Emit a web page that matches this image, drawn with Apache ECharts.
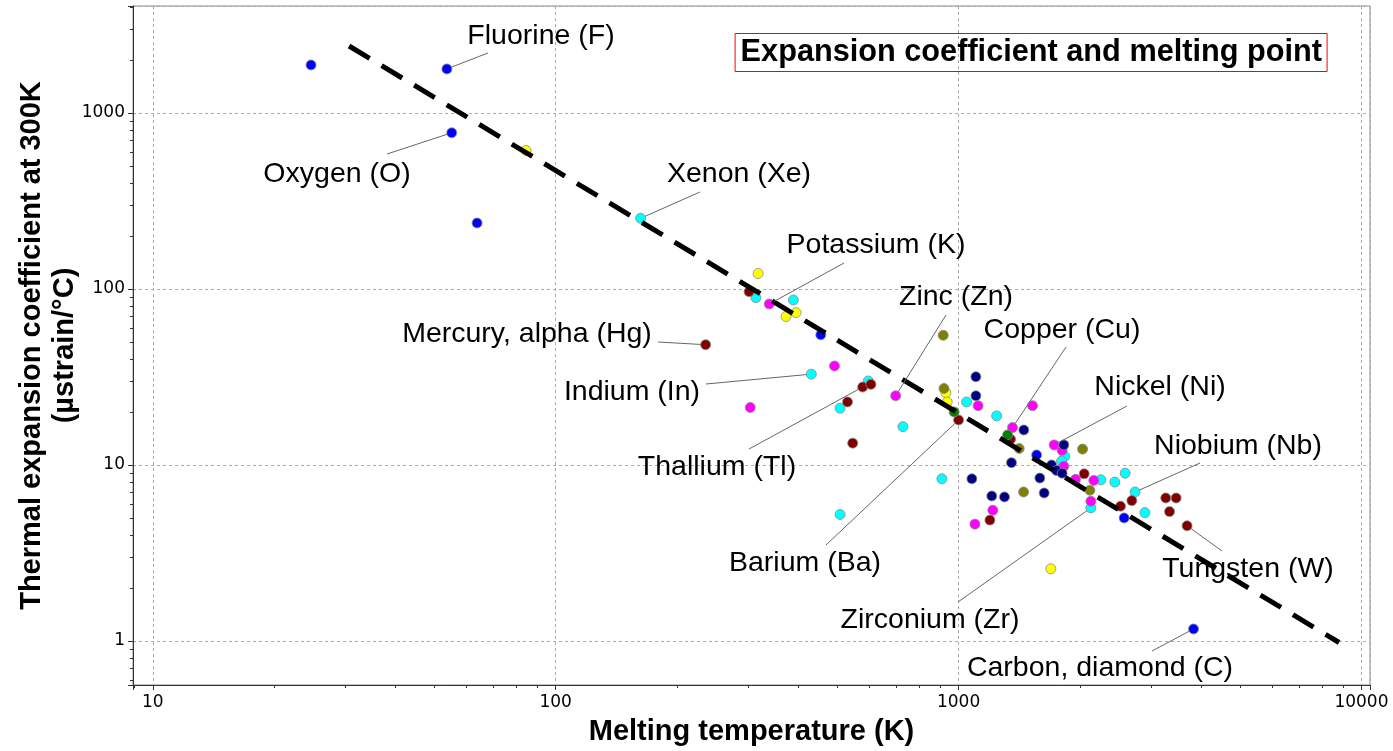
<!DOCTYPE html>
<html>
<head>
<meta charset="utf-8">
<title>Expansion coefficient and melting point</title>
<script src="https://cdn.jsdelivr.net/npm/echarts@6/dist/echarts.min.js"></script>
<style>
  html, body { margin: 0; padding: 0; background: #fff; }
  #main { width: 1393px; height: 751px; }
</style>
</head>
<body>
<div id="main"></div>
<script>
// each point: [melting temperature (K), expansion coefficient at 300K (µstrain/°C)]
const blue = [[24.7, 1873], [53.7, 1778], [55.2, 771], [63.8, 237], [455, 54.9], [1562, 11.4], [2576, 5.0], [3830, 1.17]];
const blueNames = ['', 'Fluorine (F)', 'Oxygen (O)', '', '', '', '', 'Carbon, diamond (C)'];

const yellow = [[84.4, 612], [318, 122.4], [373, 69.7], [395, 73.4], [930, 25.7], [937, 22.8], [1694, 2.57]];

const cyan = [[162.5, 252], [314, 89.2], [389, 86.5], [431, 32.8], [508, 21.0], [508, 5.23], [597, 30], [727.6, 16.5],
  [909, 8.34], [1047, 22.8], [1243, 19.0], [1835, 11.2], [1801, 10.5], [2255, 8.23], [2442, 7.99], [2591, 8.98],
  [2130, 5.7], [2742, 7.02], [2900, 5.36]];
const cyanNames = ['Xenon (Xe)', '', '', 'Indium (In)', '', '', '', '', '', '', '', '', '', '', '', '', 'Zirconium (Zr)', 'Niobium (Nb)', ''];

const maroon = [[235.6, 48.2], [302, 96.5], [530, 22.8], [546, 13.3], [578, 27.7], [606, 28.7], [1000, 18.0], [1346, 14.0],
  [1196, 4.86], [2050, 8.9], [2523, 5.83], [2692, 6.27], [3268, 6.49], [3467, 6.49], [3339, 5.43], [3691, 4.51]];
const maroonNames = ['Mercury, alpha (Hg)', '', '', '', 'Thallium (Tl)', '', 'Barium (Ba)', '', '', '', '', '', '', '', '', 'Tungsten (W)'];

const magenta = [[339, 82.1], [304, 21.2], [492, 36.5], [698, 24.7], [1118, 21.7], [1526, 21.7], [1361, 16.3], [1216, 5.53],
  [1098, 4.61], [1727, 13.0], [1807, 12.1], [1825, 9.84], [1951, 8.28], [2166, 8.17], [2130, 6.22]];
const magentaNames = ['Potassium (K)', '', '', 'Zinc (Zn)', '', '', 'Copper (Cu)', '', '', 'Nickel (Ni)', '', '', '', '', ''];

const navy = [[1104, 31.7], [1104, 24.7], [1452, 15.8], [1353, 10.3], [1079, 8.34], [1209, 6.66], [1300, 6.58], [1591, 8.42],
  [1631, 6.93], [1825, 13.0], [1701, 10.0], [1750, 9.3], [1807, 8.98]];

const olive = [[916, 54.5], [920, 27.2], [1414, 12.4], [1450, 7.02], [2031, 12.3], [2118, 7.18]];

const green = [[975, 20.0], [1323, 14.8]];

// fitted trend line end points
const trendT = [30.7, 8800];
const trendA = [2400, 0.98];

// callout text centre and where its leader line stops (pixels)
const callouts = {
  'Fluorine (F)': { at: [541, 36], end: [488, 53] },
  'Oxygen (O)': { at: [337, 174], end: [387, 154] },
  'Xenon (Xe)': { at: [739, 174], end: [700, 192] },
  'Potassium (K)': { at: [876, 245], end: [844, 263] },
  'Mercury, alpha (Hg)': { at: [527, 334], end: [658, 342] },
  'Zinc (Zn)': { at: [956, 297], end: [946, 315] },
  'Copper (Cu)': { at: [1062, 330], end: [1066, 347] },
  'Indium (In)': { at: [632, 392], end: [706, 384] },
  'Thallium (Tl)': { at: [717, 467], end: [749, 449] },
  'Nickel (Ni)': { at: [1160, 387], end: [1127, 406] },
  'Niobium (Nb)': { at: [1238, 446], end: [1200, 463] },
  'Barium (Ba)': { at: [805, 563], end: [826, 545] },
  'Tungsten (W)': { at: [1248, 569], end: [1222, 551] },
  'Zirconium (Zr)': { at: [930, 620], end: [958, 602] },
  'Carbon, diamond (C)': { at: [1100, 668], end: [1152, 651] }
};

const groups = [
  ['#00ffff', cyan, cyanNames],
  ['#ffff00', yellow, []],
  ['#ff00ff', magenta, magentaNames],
  ['#800000', maroon, maroonNames],
  ['#000080', navy, []],
  ['#808000', olive, []],
  ['#008000', green, []],
  ['#0000ff', blue, blueNames]
];

const labelFont = 'Liberation Sans, Arial, sans-serif';
const tickFont = 'DejaVu Sans, Verdana, sans-serif';

function calloutLayout(names) {
  return function (p) {
    const c = callouts[names[p.dataIndex]];
    if (!c) return {};
    return { x: c.at[0], y: c.at[1], align: 'center', verticalAlign: 'middle' };
  };
}

const series = groups.map(function (g) {
  const names = g[2];
  return {
    type: 'scatter',
    symbolSize: 10,
    itemStyle: { color: g[0], borderColor: '#8a8a8a', borderWidth: 0.8, opacity: 1 },
    data: g[1].map(function (p, i) {
      const item = { value: p };
      if (names[i]) {
        item.name = names[i];
        item.label = { show: true };
      }
      return item;
    }),
    label: {
      show: false,
      formatter: '{b}',
      color: '#000',
      fontSize: 28.5,
      fontFamily: labelFont
    },
    labelLayout: calloutLayout(names),
    emphasis: { disabled: true },
    z: 2
  };
});

series.push({
  type: 'line',
  data: trendT.map(function (t, i) { return [t, trendA[i]]; }),
  symbol: 'none',
  lineStyle: { color: '#000', width: 5, type: [24, 14] },
  z: 3,
  silent: true
});

function plainNumber(v) {
  return String(Math.round(v));
}

const myChart = echarts.init(document.getElementById('main'));
const option = {
  animation: false,
  title: {
    text: 'Expansion coefficient and melting point',
    right: 66,
    top: 33,
    borderColor: '#ff0000',
    borderWidth: 1,
    padding: [4, 5, 4, 6],
    textStyle: { fontSize: 30.7, fontWeight: 'bold', color: '#000', fontFamily: labelFont }
  },
  grid: { left: 133, right: 23, top: 6, bottom: 62, show: true, borderColor: '#888', borderWidth: 1 },
  xAxis: {
    type: 'log',
    logBase: 10,
    min: 8.93,
    max: 10500,
    name: 'Melting temperature (K)',
    nameLocation: 'middle',
    nameGap: 32,
    nameMoveOverlap: false,
    nameTextStyle: { fontSize: 29, fontWeight: 'bold', color: '#000', fontFamily: labelFont },
    axisLine: { lineStyle: { color: '#333' } },
    axisTick: { show: true, length: 5, lineStyle: { color: '#333' } },
    minorTick: { show: true, splitNumber: 9, length: 3, lineStyle: { color: '#333' } },
    axisLabel: { fontSize: 17, color: '#000', fontFamily: tickFont, margin: 9, showMinLabel: false, showMaxLabel: false, formatter: plainNumber },
    splitLine: { show: true, lineStyle: { color: '#aaa', type: [3, 3] } }
  },
  yAxis: {
    type: 'log',
    logBase: 10,
    min: 0.562,
    max: 4050,
    name: 'Thermal expansion coefficient at 300K\n(µstrain/°C)',
    nameLocation: 'middle',
    nameRotate: 90,
    nameGap: 52,
    nameMoveOverlap: false,
    nameTextStyle: { fontSize: 29, fontWeight: 'bold', color: '#000', fontFamily: labelFont, lineHeight: 33 },
    axisLine: { show: true, lineStyle: { color: '#333' } },
    axisTick: { show: true, length: 5, lineStyle: { color: '#333' } },
    minorTick: { show: true, splitNumber: 9, length: 3, lineStyle: { color: '#333' } },
    axisLabel: { fontSize: 17, color: '#000', fontFamily: tickFont, margin: 8, showMinLabel: false, showMaxLabel: false, formatter: plainNumber },
    splitLine: { show: true, lineStyle: { color: '#aaa', type: [3, 3] } }
  },
  series: series
};
myChart.setOption(option);

// leader lines: from each named point (placed by the axes) to the end near its text
const leaders = [];
groups.forEach(function (g) {
  g[2].forEach(function (name, i) {
    if (!name) return;
    const c = callouts[name];
    const pt = myChart.convertToPixel({ gridIndex: 0 }, g[1][i]);
    const dx = c.end[0] - pt[0], dy = c.end[1] - pt[1];
    const d = Math.hypot(dx, dy) || 1;
    leaders.push({
      type: 'line',
      silent: true,
      z: 10,
      shape: { x1: pt[0] + dx * 5 / d, y1: pt[1] + dy * 5 / d, x2: c.end[0], y2: c.end[1] },
      style: { stroke: '#666', lineWidth: 1 }
    });
  });
});
myChart.setOption({ graphic: leaders });
</script>
</body>
</html>
